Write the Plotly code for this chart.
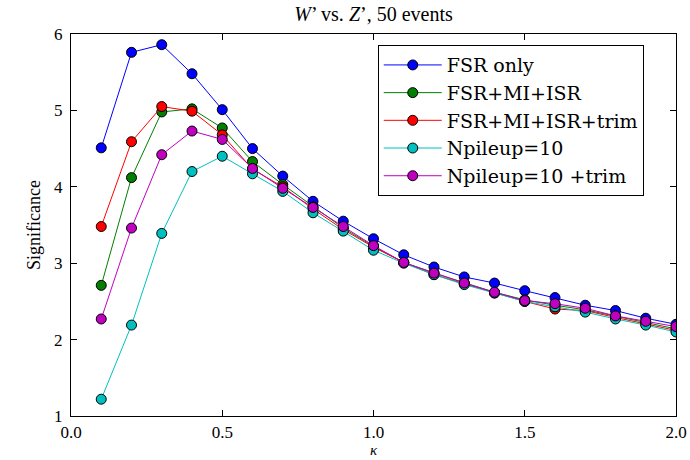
import plotly.graph_objects as go

kappa = [0.1, 0.2, 0.3, 0.4, 0.5, 0.6, 0.7, 0.8, 0.9, 1.0,
         1.1, 1.2, 1.3, 1.4, 1.5, 1.6, 1.7, 1.8, 1.9, 2.0]

fsr_only = [4.51, 5.76, 5.86, 5.48, 5.01, 4.50, 4.14, 3.81, 3.55, 3.32,
            3.11, 2.95, 2.82, 2.74, 2.64, 2.55, 2.45, 2.38, 2.28, 2.20]
fsr_mi_isr = [2.71, 4.12, 4.98, 5.02, 4.77, 4.33, 4.03, 3.74, 3.46, 3.22,
              3.01, 2.87, 2.74, 2.62, 2.52, 2.45, 2.39, 2.31, 2.22, 2.14]
fsr_mi_isr_trim = [3.48, 4.59, 5.05, 4.99, 4.68, 4.23, 4.00, 3.71, 3.44, 3.21,
                   3.01, 2.85, 2.73, 2.61, 2.50, 2.40, 2.38, 2.29, 2.21, 2.12]
npileup10 = [1.22, 2.19, 3.39, 4.20, 4.40, 4.17, 3.94, 3.66, 3.42, 3.17,
             3.00, 2.85, 2.72, 2.61, 2.50, 2.43, 2.36, 2.27, 2.19, 2.10]
npileup10_trim = [2.27, 3.46, 4.42, 4.73, 4.62, 4.24, 3.98, 3.73, 3.48, 3.23,
                  3.01, 2.87, 2.74, 2.62, 2.51, 2.47, 2.41, 2.31, 2.24, 2.17]

series = [
    ("FSR only", fsr_only, "#0000ff"),
    ("FSR+MI+ISR", fsr_mi_isr, "#007f00"),
    ("FSR+MI+ISR+trim", fsr_mi_isr_trim, "#ff0000"),
    ("Npileup=10", npileup10, "#00bfbf"),
    ("Npileup=10 +trim", npileup10_trim, "#bf00bf"),
]

x_ticks = [0.0, 0.5, 1.0, 1.5, 2.0]
x_tick_labels = ["0.0", "0.5", "1.0", "1.5", "2.0"]
y_ticks = [1, 2, 3, 4, 5, 6]

FONT = "Liberation Serif"

fig = go.Figure()
for name, vals, col in series:
    fig.add_trace(go.Scatter(
        x=kappa, y=vals, name=name, mode="lines+markers",
        line=dict(color=col, width=1),
        marker=dict(color=col, size=10, line=dict(color="black", width=1)),
    ))

fig.update_layout(
    width=690, height=460,
    margin=dict(l=71, r=14, t=34, b=44),
    paper_bgcolor="white", plot_bgcolor="white",
    font=dict(family=FONT, size=17, color="black"),
    title=dict(text="<i>W</i>’ vs. <i>Z</i>’, 50 events", x=(71 + 302.5) / 690,
               xanchor="center", y=0.985, yanchor="top",
               font=dict(family=FONT, size=20)),
    showlegend=True,
    legend=dict(x=0.507, y=0.971, xanchor="left", yanchor="top",
                bordercolor="black", borderwidth=1, bgcolor="white",
                font=dict(family="DejaVu Serif", size=19), itemwidth=58,
                tracegroupgap=0),
    xaxis=dict(range=[0, 2.0], tickvals=x_ticks, ticktext=x_tick_labels,
               ticks="inside", ticklen=6, tickcolor="black", automargin=False,
               showline=True, linecolor="black", linewidth=1.2, mirror="allticks",
               showgrid=False, zeroline=False, ticklabelstandoff=0),
    yaxis=dict(range=[1, 6], tickvals=y_ticks, automargin=False,
               ticks="inside", ticklen=6, tickcolor="black", ticklabelstandoff=4,
               showline=True, linecolor="black", linewidth=1.2, mirror="allticks",
               showgrid=False, zeroline=False,
               title=dict(text="Significance", standoff=8, font=dict(size=18))),
    annotations=[dict(text="<i>κ</i>", xref="paper", yref="paper",
                      x=0.5, y=-44 / 382, xanchor="center", yanchor="bottom",
                      showarrow=False, font=dict(family=FONT, size=15))],
)

fig.write_html("out.html")
